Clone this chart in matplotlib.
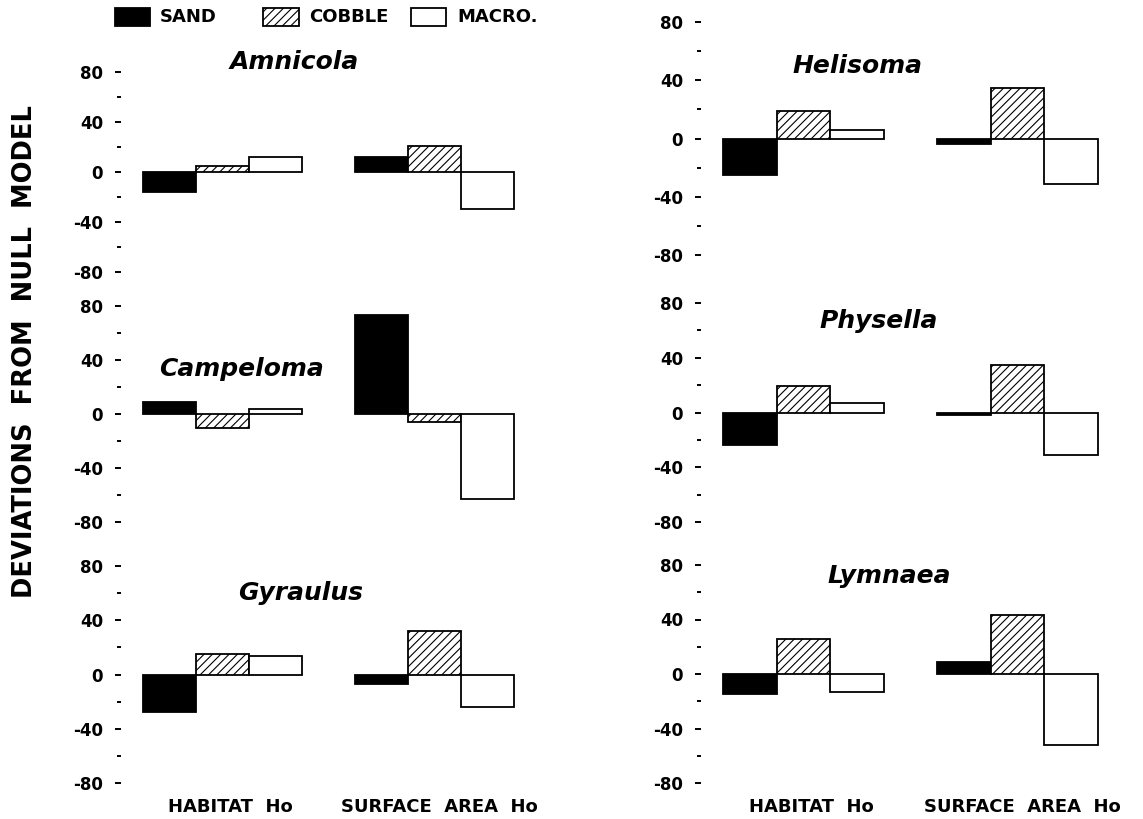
import matplotlib
matplotlib.use("Agg")
import matplotlib.pyplot as plt
from matplotlib.patches import Rectangle
import numpy as np

plt.rcParams['font.family'] = ['DejaVu Sans']
plt.rcParams['hatch.linewidth'] = 0.8
plt.rcParams['axes.unicode_minus'] = False

# ---------------- data ----------------
species = ["Amnicola", "Campeloma", "Gyraulus", "Helisoma", "Physella", "Lymnaea"]
substrates = ["SAND", "COBBLE", "MACRO."]
groups = ["HABITAT  Ho", "SURFACE  AREA  Ho"]

# values per species: habitat (sand, cobble, macro), surface area (sand, cobble, macro)
amnicola_hab = [-16, 5, 12]
amnicola_sa = [12, 21, -30]
campeloma_hab = [9, -10, 4]
campeloma_sa = [73, -6, -63]
gyraulus_hab = [-28, 15, 14]
gyraulus_sa = [-7, 32, -24]
helisoma_hab = [-25, 19, 6]
helisoma_sa = [-4, 35, -31]
physella_hab = [-24, 19, 7]
physella_sa = [-1.5, 35, -31]
lymnaea_hab = [-15, 26, -13]
lymnaea_sa = [9, 43, -52]

data = {
    "Amnicola": (amnicola_hab, amnicola_sa),
    "Campeloma": (campeloma_hab, campeloma_sa),
    "Gyraulus": (gyraulus_hab, gyraulus_sa),
    "Helisoma": (helisoma_hab, helisoma_sa),
    "Physella": (physella_hab, physella_sa),
    "Lymnaea": (lymnaea_hab, lymnaea_sa),
}

major_ticks = [-80, -40, 0, 40, 80]
minor_ticks = [-60, -20, 20, 60]

# ---------------- layout ----------------
W, H = 1143, 819
fig = plt.figure(figsize=(W / 100, H / 100), dpi=100)

def rect(left, top, width, bottom):
    return [left / W, 1 - bottom / H, width / W, (bottom - top) / H]

# (left px, top px, width px, bottom px) for y range 80..-80
layout = {
    "Amnicola": (121, 72, 430, 272),
    "Campeloma": (121, 306, 430, 522),
    "Gyraulus": (121, 566, 430, 783),
    "Helisoma": (701, 22, 434, 255),
    "Physella": (701, 303, 434, 522),
    "Lymnaea": (701, 565, 434, 783),
}
title_pos = {
    "Amnicola": (2.35, 88),
    "Campeloma": (1.35, 33),
    "Gyraulus": (2.48, 60),
    "Helisoma": (2.0, 50),
    "Physella": (2.4, 67),
    "Lymnaea": (2.6, 72),
}
bottom_panels = {"Gyraulus", "Lymnaea"}

styles = [
    dict(facecolor="black", hatch=None),
    dict(facecolor="white", hatch="////"),
    dict(facecolor="white", hatch=None),
]

hab_x = np.array([0, 1, 2])
sa_x = np.array([4, 5, 6])

for sp in species:
    ax = fig.add_axes(rect(*layout[sp]))
    hab, sa = data[sp]
    for i in range(3):
        st = styles[i]
        ax.bar([hab_x[i], sa_x[i]], [hab[i], sa[i]], width=1.0,
               facecolor=st["facecolor"], edgecolor="black",
               hatch=st["hatch"], linewidth=1.3)
    ax.set_xlim(-0.92, 7.2)
    ax.set_ylim(-80, 80)
    for s in ax.spines.values():
        s.set_visible(False)
    ax.set_yticks(major_ticks)
    ax.set_yticks(minor_ticks, minor=True)
    ax.set_yticklabels([str(t) for t in major_ticks], fontsize=12, fontweight="bold")
    ax.tick_params(axis="y", which="major", direction="out", length=4.5, width=1.4, pad=8.5)
    ax.tick_params(axis="y", which="minor", direction="out", length=3.2, width=1.4)
    if sp in bottom_panels:
        ax.set_xticks([1.15, 5.1])
        ax.set_xticklabels(groups, fontsize=13, fontweight="bold")
        ax.tick_params(axis="x", length=0, pad=11)
    else:
        ax.set_xticks([])
    ax.patch.set_alpha(0)
    tx, ty = title_pos[sp]
    ax.text(tx, ty, sp, fontsize=18, fontweight="bold", fontstyle="italic",
            ha="center", va="center")

# y label
fig.text(25 / W, 1 - 352 / H, "DEVIATIONS  FROM  NULL  MODEL", rotation=90,
         fontsize=18.5, fontweight="bold", ha="center", va="center")

# legend (drawn manually in figure pixel coordinates)
leg_boxes = [(115, 150), (263, 299), (411, 446)]
leg_text_x = [160, 309, 457]
box_top, box_bot = 8, 26
for i, lab in enumerate(substrates):
    x0, x1 = leg_boxes[i]
    st = styles[i]
    r = Rectangle((x0 / W, 1 - box_bot / H), (x1 - x0) / W, (box_bot - box_top) / H,
                  transform=fig.transFigure, facecolor=st["facecolor"],
                  edgecolor="black", hatch=st["hatch"], linewidth=1.3)
    fig.add_artist(r)
    fig.text(leg_text_x[i] / W, 1 - ((box_top + box_bot) / 2) / H, lab,
             fontsize=13, fontweight="bold", ha="left", va="center")

fig.savefig("out.png", dpi=100)
